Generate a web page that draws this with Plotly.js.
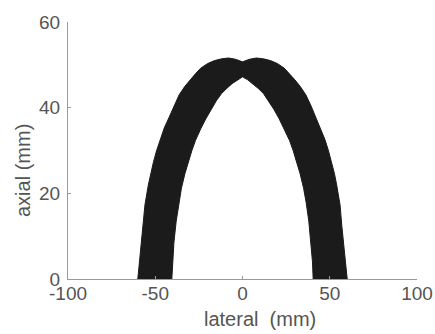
<!DOCTYPE html>
<html>
<head>
<meta charset="utf-8">
<script src="https://cdn.plot.ly/plotly-3.0.1.min.js"></script>
<style>html,body{margin:0;padding:0;background:#fff;}#chart{width:435px;height:334px;}</style>
</head>
<body>
<div id="chart"></div>
<script>
// Outer edge of the arch (left base -> apex -> right base), mm
var outerX = [-60, -59, -57.8, -56.9, -55.9, -54, -52.7, -51.1, -49.3, -47.3, -44.8, -42, -39.2, -36.3, -33, -30, -27, -24, -20, -16, -12, -8, -4, 0,
              4, 8, 12, 16, 20, 24, 27, 30, 33, 36.3, 39.2, 42, 44.8, 47.3, 49.3, 51.1, 52.7, 54, 55.9, 56.9, 57.8, 59, 60];
var outerY = [0, 4, 8, 12.5, 17.3, 21.9, 24.6, 27.2, 29.9, 32.5, 35.3, 37.8, 40.5, 43, 45, 46.5, 47.9, 49.2, 50.3, 51.0, 51.4, 51.6, 51.3, 50.7,
              51.3, 51.6, 51.4, 51.0, 50.3, 49.2, 47.9, 46.5, 45, 43, 40.5, 37.8, 35.3, 32.5, 29.9, 27.2, 24.6, 21.9, 17.3, 12.5, 8, 4, 0];
// Inner edge of the arch (left base -> apex -> right base), mm
var innerX = [-40.5, -40.1, -39.3, -38, -36.5, -35, -33, -31, -29, -27, -24, -21, -18, -15, -12, -9, -6, -3, 0,
              3, 6, 9, 12, 15, 18, 21, 24, 27, 29, 31, 33, 35, 36.5, 38, 39.3, 40.1, 40.5];
var innerY = [0, 4, 8.5, 13.5, 17.8, 21.2, 24.6, 27.4, 30, 32.3, 35, 37.4, 39.6, 41.6, 43.3, 44.5, 45.6, 46.5, 47.2,
              46.5, 45.6, 44.5, 43.3, 41.6, 39.6, 37.4, 35, 32.3, 30, 27.4, 24.6, 21.2, 17.8, 13.5, 8.5, 4, 0];

var xTickVals = [-100, -50, 0, 50, 100];
var xTickText = ["-100", "-50", "0", "50", "100"];
var yTickVals = [0, 20, 40, 60];
var yTickText = ["0", "20", "40", "60"];
var xTitle = "lateral  (mm)";
var yTitle = "axial (mm)";

// closed outline: outer edge forward, inner edge backward
var polyX = outerX.concat(innerX.slice().reverse());
var polyY = outerY.concat(innerY.slice().reverse());
polyX.push(outerX[0]); polyY.push(outerY[0]);

var fontFam = '"Liberation Sans", Arial, sans-serif';
var tickFont = {family: fontFam, size: 19, color: '#555555'};

var data = [{
  type: 'scatter', mode: 'lines',
  x: polyX, y: polyY,
  fill: 'toself', fillcolor: '#1b1b1b',
  line: {color: '#1b1b1b', width: 1},
  hoverinfo: 'skip', showlegend: false
}];

var axisCommon = {
  showgrid: false, zeroline: false, showline: true,
  linecolor: '#9a9a9a', linewidth: 1,
  ticks: 'inside', ticklen: 3, tickcolor: '#9a9a9a', tickwidth: 1,
  tickfont: tickFont, tickmode: 'array', fixedrange: true
};

var layout = {
  width: 435, height: 334,
  margin: {l: 68, r: 18, t: 22, b: 55, pad: 0},
  paper_bgcolor: '#ffffff', plot_bgcolor: '#ffffff',
  showlegend: false,
  xaxis: Object.assign({}, axisCommon, {
    range: [-100, 100], tickvals: xTickVals, ticktext: xTickText,
    ticklabelstandoff: -3
  }),
  yaxis: Object.assign({}, axisCommon, {
    range: [0, 60], tickvals: yTickVals, ticktext: yTickText,
    ticklabelstandoff: 3
  }),
  annotations: [
    {text: xTitle, xref: 'paper', yref: 'paper', x: (259.5 - 68) / 349, y: -(319 - 279) / 257,
     xanchor: 'center', yanchor: 'middle', showarrow: false,
     font: {family: fontFam, size: 20, color: '#555555'}},
    {text: yTitle, xref: 'paper', yref: 'paper', x: -(68 - 22.5) / 349, y: (279 - 170.5) / 257,
     xanchor: 'center', yanchor: 'middle', textangle: -90, showarrow: false,
     font: {family: fontFam, size: 20, color: '#555555'}}
  ]
};

Plotly.newPlot('chart', data, layout, {displayModeBar: false, staticPlot: true});
</script>
</body>
</html>
